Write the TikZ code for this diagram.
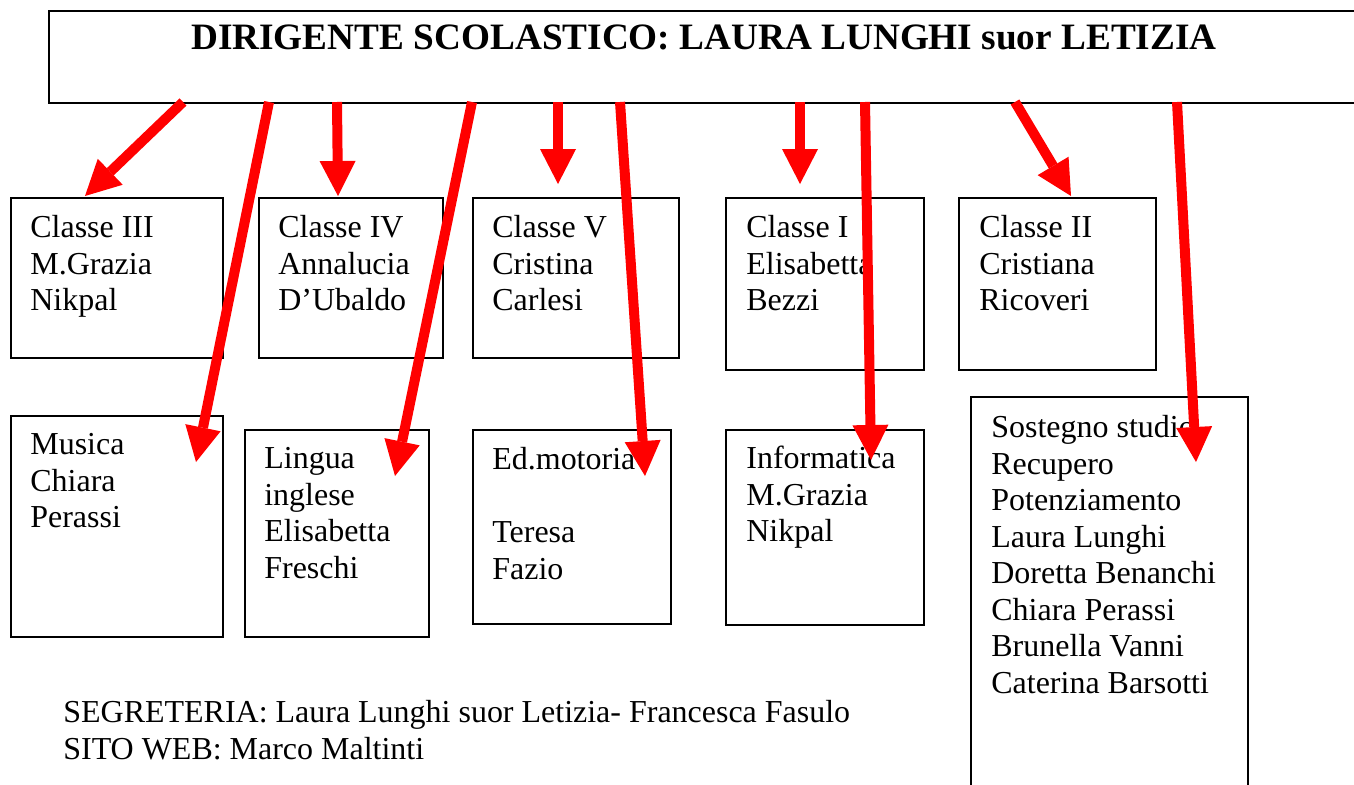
\documentclass[tikz,border=0pt]{standalone}
\usepackage{fontspec}
\setmainfont{Liberation Serif}
\usetikzlibrary{arrows.meta}
\tikzset{
	box/.style={draw, line width=0.9pt, anchor=north west, inner sep=0pt},
	txt/.style={anchor=north west, inner sep=0pt, align=left, font=\fontsize{18.2pt}{20.8pt}\selectfont},
	redarrow/.style={red, line width=0.2cm, -{Triangle[length=0.7cm,width=0.72cm,line width=0pt]}}
}
\begin{document}
\begin{tikzpicture}[x=0.02cm,y=-0.02cm]
	\path[use as bounding box, clip] (0,0) rectangle (1354,784);
	% dirigente
	\node[box, minimum width=26.6cm, minimum height=1.84cm] (dir) at (48,10) {};
	\node[anchor=base, inner sep=0pt, font=\fontsize{21.2pt}{25pt}\selectfont\bfseries] (tit) at (704,50) {DIRIGENTE SCOLASTICO: LAURA LUNGHI suor LETIZIA};
	
	% classi
	\node[box, minimum width=4.24cm, minimum height=3.2cm] (c3) at (10,197) {};
	\node[box, minimum width=3.68cm, minimum height=3.2cm] (c4) at (258,197) {};
	\node[box, minimum width=4.12cm, minimum height=3.2cm] (c5) at (472,197) {};
	\node[box, minimum width=3.96cm, minimum height=3.44cm] (c1) at (725,197) {};
	\node[box, minimum width=3.94cm, minimum height=3.44cm] (c2) at (958,197) {};
	\node[txt] (c3t) at (30,215) {Classe III\\M.Grazia\\Nikpal};
	\node[txt] (c4t) at (278,215) {Classe IV\\Annalucia\\D’Ubaldo};
	\node[txt] (c5t) at (492,215) {Classe V\\Cristina\\Carlesi};
	\node[txt] (c1t) at (746,215) {Classe I\\Elisabetta\\Bezzi};
	\node[txt] (c2t) at (979,215) {Classe II\\Cristiana\\Ricoveri};
	
	% materie
	\node[box, minimum width=4.24cm, minimum height=4.42cm] (mus) at (10,415) {};
	\node[box, minimum width=3.68cm, minimum height=4.14cm] (ing) at (244,429) {};
	\node[box, minimum width=3.96cm, minimum height=3.88cm] (mot) at (472,429) {};
	\node[box, minimum width=3.96cm, minimum height=3.9cm] (inf) at (725,429) {};
	\node[box, minimum width=5.54cm, minimum height=8.2cm] (sos) at (970,396) {};
	\node[txt] (must) at (30,433) {Musica\\Chiara\\Perassi};
	\node[txt] (ingt) at (264,447) {Lingua\\inglese\\Elisabetta\\Freschi};
	\node[txt] (mott) at (492,447) {Ed.motoria\\\mbox{}\\Teresa\\Fazio};
	\node[txt] (inft) at (746,446) {Informatica\\M.Grazia\\Nikpal};
	\node[txt] (sost) at (991,415) {Sostegno studio\\Recupero\\Potenziamento\\Laura Lunghi\\Doretta Benanchi\\Chiara Perassi\\Brunella Vanni\\Caterina Barsotti};
	
	\node[txt] (seg) at (63,700) {SEGRETERIA: Laura Lunghi suor Letizia- Francesca Fasulo\\SITO WEB: Marco Maltinti};
	
	% frecce
	\coordinate (s1) at (183,102); \coordinate (e1) at (85,196);
	\coordinate (s2) at (269,102); \coordinate (e2) at (196,462);
	\coordinate (s3) at (337,102); \coordinate (e3) at (338,196);
	\coordinate (s4) at (472,102); \coordinate (e4) at (395,476);
	\coordinate (s5) at (558,102); \coordinate (e5) at (558,184);
	\coordinate (s6) at (620,102); \coordinate (e6) at (645,476);
	\coordinate (s7) at (800,102); \coordinate (e7) at (800,184);
	\coordinate (s8) at (865,102); \coordinate (e8) at (871,460);
	\coordinate (s9) at (1015,102); \coordinate (e9) at (1071,196);
	\coordinate (s10) at (1177,102); \coordinate (e10) at (1196,462);
	\draw[redarrow] (s1) -- (e1);
	\draw[redarrow] (s2) -- (e2);
	\draw[redarrow] (s3) -- (e3);
	\draw[redarrow] (s4) -- (e4);
	\draw[redarrow] (s5) -- (e5);
	\draw[redarrow] (s6) -- (e6);
	\draw[redarrow] (s7) -- (e7);
	\draw[redarrow] (s8) -- (e8);
	\draw[redarrow] (s9) -- (e9);
	\draw[redarrow] (s10) -- (e10);
\end{tikzpicture}
\end{document}
